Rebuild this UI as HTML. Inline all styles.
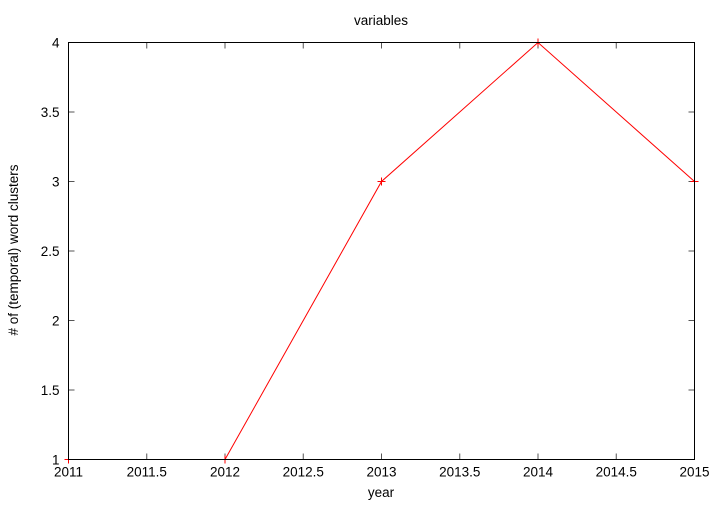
<!DOCTYPE html>
<html><head><meta charset="utf-8"><style>
body{margin:0;background:#fff}
svg text{font-family:"Liberation Sans",sans-serif;font-size:13.5px;fill:#000}
</style></head><body>
<svg width="720" height="504">
<g id="plot"></g>
</svg>
<script>
const years=[2011,2012,2013,2014,2015];
const clusters=[1,1,3,4,3];
const xTicks=[2011,2011.5,2012,2012.5,2013,2013.5,2014,2014.5,2015];
const yTicks=[1,1.5,2,2.5,3,3.5,4];
const L=68.5,R=694.5,T=42.5,B=459.5;
const xs=v=>L+(v-2011)/4*(R-L);
const ys=v=>B-(v-1)/3*(B-T);
const g=document.getElementById('plot');
const NS='http://www.w3.org/2000/svg';
function mk(tag,a,txt){const e=document.createElementNS(NS,tag);for(const k in a)e.setAttribute(k,a[k]);if(txt!=null)e.textContent=txt;g.appendChild(e);return e;}
xTicks.forEach(t=>{
 const x=xs(t);
 const a=mk('path',{d:`M${x},${B}v-6M${x},${T}v6`,stroke:'#555','stroke-width':1});
 
 const l=mk('text',{x:x,y:B+17,'text-anchor':'middle'},String(t));
 
});
yTicks.forEach(t=>{
 const y=ys(t);
 const a=mk('path',{d:`M${L},${y}h6M${R},${y}h-6`,stroke:'#555','stroke-width':1});
 
 const l=mk('text',{x:L-9,y:y+5,'text-anchor':'end'},String(t));
 
});
const pts=years.map((v,i)=>[xs(v),ys(clusters[i])]);
const line=mk('polyline',{points:pts.map(p=>p.join(',')).join(' '),fill:'none',stroke:'#ff0000','stroke-width':1});

pts.forEach(p=>{
 const m=mk('path',{d:`M${p[0]-4},${p[1]}h8M${p[0]},${p[1]-4}v8`,stroke:'#ff0000','stroke-width':1});
 
});
const f=mk('rect',{x:L,y:T,width:R-L,height:B-T,fill:'none',stroke:'#000','stroke-width':1});

const ti=mk('text',{x:381,y:25,'text-anchor':'middle'},'variables');

const xt=mk('text',{x:381,y:497,'text-anchor':'middle'},'year');

const yt=mk('text',{x:0,y:0,'text-anchor':'middle',transform:'translate(18,250) rotate(-90)'},'# of (temporal) word clusters');

</script>
</body></html>
